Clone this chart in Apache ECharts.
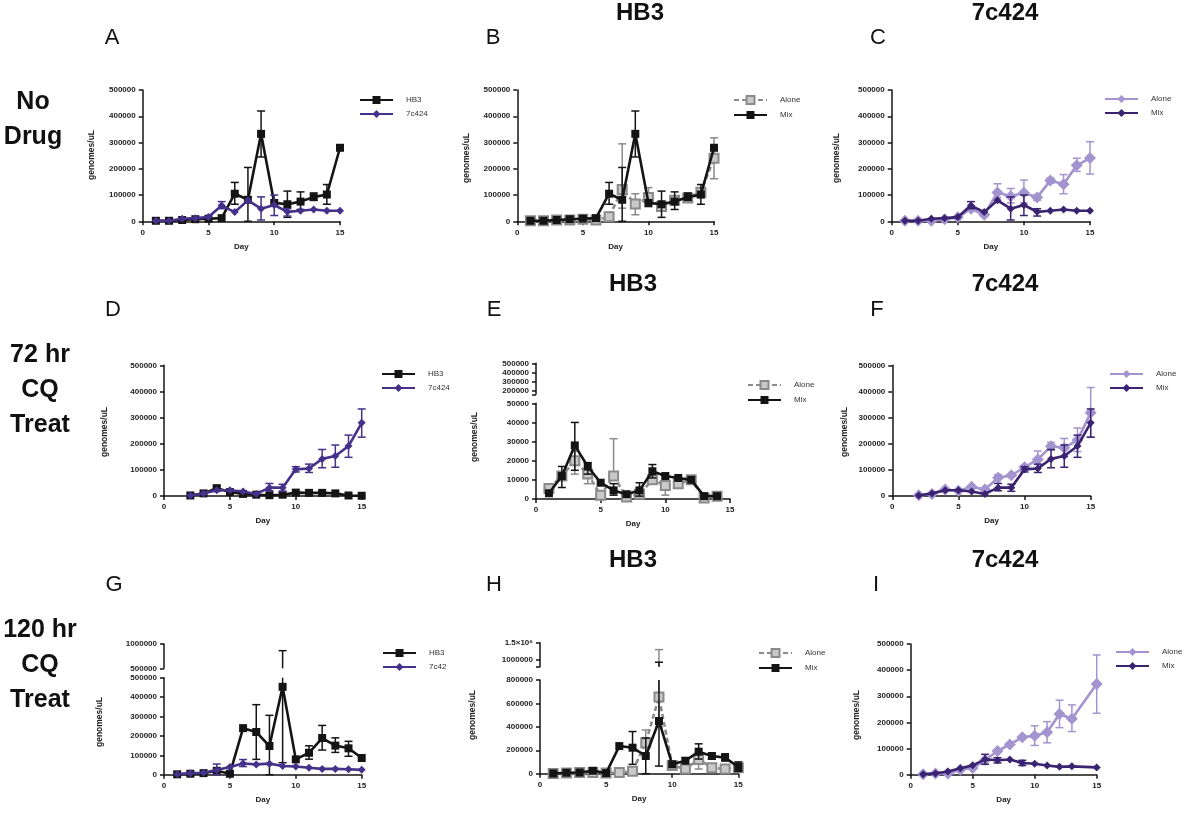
<!DOCTYPE html>
<html><head><meta charset="utf-8">
<script src="https://cdn.jsdelivr.net/npm/echarts@6/dist/echarts.min.js"></script>
<style>html,body{margin:0;padding:0;background:#fff}#c{width:1200px;height:828px}</style>
</head><body><div id="c"></div>
<script>
const _ = null;
const days = [1,2,3,4,5,6,7,8,9,10,11,12,13,14,15];
const xTicks = [0,5,10,15];

// ---- Panel A (No Drug) ----
const A_HB3    = [2000,2000,5000,8000,10000,12000,105000,82000,333000,70000,65000,75000,92000,102000,280000];
const A_HB3_hi = [_,_,_,_,_,_,148000,205000,420000,_,115000,112000,108000,140000,_];
const A_HB3_lo = [_,_,_,_,_,_,65000,0,245000,_,15000,45000,80000,65000,_];
const A_7c     = [2000,2000,10000,12000,16000,60000,35000,80000,48000,62000,36000,40000,45000,40000,40000];
const A_7c_hi  = [_,_,_,_,_,75000,_,_,93000,100000,48000,_,_,_,_];
const A_7c_lo  = [_,_,_,_,_,48000,_,_,5000,22000,20000,_,_,_,_];
// ---- Panel B (HB3, No Drug) ----
const B_Alone    = [2000,2000,5000,5000,8000,5000,17000,121000,66000,91000,56000,80000,89000,111000,240000];
const B_Alone_hi = [_,_,_,_,_,_,_,295000,105000,128000,_,95000,_,125000,318000];
const B_Alone_lo = [_,_,_,_,_,_,_,50000,25000,55000,_,65000,_,90000,162000];
const B_Mix = A_HB3, B_Mix_hi = A_HB3_hi, B_Mix_lo = A_HB3_lo;
// ---- Panel C (7c424, No Drug) ----
const C_Alone    = [2000,2000,2000,8000,15000,48000,25000,110000,95000,109000,91000,155000,141000,213000,241000];
const C_Alone_hi = [_,_,_,_,_,_,_,143000,125000,157000,100000,165000,178000,240000,303000];
const C_Alone_lo = [_,_,_,_,_,_,_,90000,70000,70000,80000,145000,105000,190000,180000];
const C_Mix = A_7c, C_Mix_hi = A_7c_hi, C_Mix_lo = A_7c_lo;
// ---- Panel D (72 hr CQ) ----
const D_HB3    = [_,2000,10000,30000,15000,8000,5000,3000,5000,13000,12000,12000,10000,2000,1000];
const D_HB3_hi = [_,_,_,38000,_,_,_,_,_,_,_,_,_,_,_];
const D_HB3_lo = [_,_,_,_,_,_,_,_,_,_,_,_,_,_,_];
const D_7c     = [_,2000,10000,22000,22000,17000,8000,32000,32000,102000,105000,142000,153000,191000,280000];
const D_7c_hi  = [_,_,_,_,_,_,_,48000,45000,112000,122000,178000,195000,233000,333000];
const D_7c_lo  = [_,_,_,_,_,_,_,20000,18000,92000,90000,108000,110000,148000,225000];
// ---- Panel E (HB3, 72 hr CQ) ----
const E_Alone    = [5500,12000,20000,13000,2000,12000,1000,2500,10000,7000,8000,10000,500,1500,_];
const E_Alone_hi = [_,_,25000,15000,_,31500,_,_,12000,11000,_,12000,_,_,_];
const E_Alone_lo = [_,_,13000,8000,_,_,_,_,_,2000,_,8000,_,_,_];
const E_Mix      = [3000,12000,28000,17000,8500,4500,2500,4500,14500,12000,11000,10000,1500,1500,_];
const E_Mix_hi   = [_,17000,40000,19000,_,8000,_,8500,18000,_,_,_,_,_,_];
const E_Mix_lo   = [_,6000,15000,13000,_,2000,_,1500,11000,_,_,_,_,_,_];
// ---- Panel F (7c424, 72 hr CQ) ----
const F_Alone    = [_,3000,8000,25000,20000,35000,25000,70000,79000,110000,140000,190000,184000,214000,318000];
const F_Alone_hi = [_,_,_,_,_,_,_,82000,_,118000,172000,205000,220000,260000,415000];
const F_Alone_lo = [_,_,_,_,_,_,_,_,_,_,120000,175000,150000,170000,225000];
const F_Mix = D_7c, F_Mix_hi = D_7c_hi, F_Mix_lo = D_7c_lo;
// ---- Panel G (120 hr CQ) ----
const G_HB3    = [2000,5000,8000,20000,5000,240000,220000,148000,453000,79000,113000,189000,150000,136000,86000];
const G_HB3_hi = [_,_,_,_,_,_,361000,306000,863000,_,149000,254000,190000,172000,_];
const G_HB3_lo = [_,_,_,_,_,_,79000,0,62000,_,80000,127000,115000,95000,_];
const G_7c     = [2000,8000,10000,24000,40000,58000,53000,57000,45000,42000,36000,30000,30000,28000,25000];
const G_7c_hi  = [_,_,_,55000,_,78000,_,_,_,_,_,_,_,_,_];
const G_7c_lo  = [_,_,_,0,_,42000,_,_,_,_,_,_,_,_,_];
// ---- Panel H (HB3, 120 hr CQ) ----
const H_Alone    = [2000,5000,10000,10000,5000,10000,20000,265000,655000,71000,40000,122000,51000,40000,50000];
const H_Alone_hi = [_,_,_,_,_,_,_,373000,1300000,_,_,150000,_,_,100000];
const H_Alone_lo = [_,_,_,_,_,_,_,150000,400000,_,_,40000,_,_,20000];
const H_Mix      = [2000,8000,10000,25000,5000,236000,222000,151000,450000,80000,111000,188000,151000,137000,57000];
const H_Mix_hi   = [_,_,_,_,_,_,360000,305000,935000,_,135000,255000,175000,170000,100000];
const H_Mix_lo   = [_,_,_,_,_,_,80000,0,65000,_,_,125000,125000,110000,20000];
// ---- Panel I (7c424, 120 hr CQ) ----
const I_Alone    = [2000,5000,5000,19000,25500,56000,90600,116000,142800,149000,162000,232000,214000,_,347000];
const I_Alone_hi = [_,_,_,_,_,_,_,_,_,187000,203000,285000,267000,_,458000];
const I_Alone_lo = [_,_,_,_,_,_,_,_,_,112000,122000,180000,165000,_,235000];
const I_Mix      = [2000,5000,12000,25000,35700,58700,55000,58000,44600,42000,35000,30000,32000,_,28000];
const I_Mix_hi   = [_,_,_,_,_,78000,65000,_,55000,_,_,_,_,_,_];
const I_Mix_lo   = [_,_,_,_,_,40000,45000,_,35000,_,_,_,_,_,_];

// ---- Text ----
const panelLetters = ['A','B','C','D','E','F','G','H','I'];
const colTitles = ['HB3','7c424'];
const rowLabels = [['No','Drug'],['72 hr','CQ','Treat'],['120 hr','CQ','Treat']];
const yTitle = 'genomes/uL', xTitle = 'Day';

// ---- Styles ----
const STY = {
  black:  {color:'#141414', fill:'#141414', symbol:'rect', size:8, bw:0},
  purple: {color:'#45318a', fill:'#45318a', symbol:'diamond', size:8, bw:0},
  grey:   {color:'#8a8a8a', fill:'#c9c9c9', symbol:'rect', size:9, bw:2, dash:[5,3]},
  light:  {color:'#a394cf', fill:'#a394cf', symbol:'diamond', size:12, bw:0},
  dark:   {color:'#3a2472', fill:'#3a2472', symbol:'diamond', size:8, bw:0}
};
const FONT = "'Liberation Sans', Arial, sans-serif";

const panels = [
  {id:'A', left:142.7, width:197.3, main:{top:90, height:131.3, min:0, max:500000, interval:100000},
   yName:[92,155], legend:[354,91],
   lines:[{n:'HB3', v:A_HB3, hi:A_HB3_hi, lo:A_HB3_lo, s:'black'},{n:'7c424', v:A_7c, hi:A_7c_hi, lo:A_7c_lo, s:'purple'}]},
  {id:'B', left:517.3, width:196.7, main:{top:90, height:131.3, min:0, max:500000, interval:100000},
   yName:[467,158], legend:[728,90],
   lines:[{n:'Alone', v:B_Alone, hi:B_Alone_hi, lo:B_Alone_lo, s:'grey'},{n:'Mix', v:B_Mix, hi:B_Mix_hi, lo:B_Mix_lo, s:'black'}]},
  {id:'C', left:891.7, width:198.3, main:{top:90, height:131.3, min:0, max:500000, interval:100000},
   yName:[837,158], legend:[1099,90],
   lines:[{n:'Alone', v:C_Alone, hi:C_Alone_hi, lo:C_Alone_lo, s:'light'},{n:'Mix', v:C_Mix, hi:C_Mix_hi, lo:C_Mix_lo, s:'dark'}]},
  {id:'D', left:164, width:197.7, main:{top:365.3, height:130.7, min:0, max:500000, interval:100000},
   yName:[105,432], legend:[376,365],
   lines:[{n:'HB3', v:D_HB3, hi:D_HB3_hi, lo:D_HB3_lo, s:'black'},{n:'7c424', v:D_7c, hi:D_7c_hi, lo:D_7c_lo, s:'purple'}]},
  {id:'E', left:536, width:194, main:{top:403.3, height:95.7, min:0, max:50000, interval:10000},
   upper:{top:363.3, height:31, min:160000, max:500000, labels:[200000,300000,400000,500000], ticks:[160000,200000,300000,400000,500000]},
   yName:[475,437], legend:[742,375],
   lines:[{n:'Alone', v:E_Alone, hi:E_Alone_hi, lo:E_Alone_lo, s:'grey'},{n:'Mix', v:E_Mix, hi:E_Mix_hi, lo:E_Mix_lo, s:'black'}]},
  {id:'F', left:892.3, width:198.4, main:{top:365.3, height:130.7, min:0, max:500000, interval:100000},
   yName:[845,432], legend:[1104,365],
   lines:[{n:'Alone', v:F_Alone, hi:F_Alone_hi, lo:F_Alone_lo, s:'light'},{n:'Mix', v:F_Mix, hi:F_Mix_hi, lo:F_Mix_lo, s:'dark'}]},
  {id:'G', left:164, width:197.7, main:{top:677.7, height:97, min:0, max:500000, interval:100000},
   upper:{top:644, height:24.3, min:500000, max:1000000, labels:[500000,1000000], ticks:[500000,1000000]},
   yName:[100,722], legend:[377,644],
   lines:[{n:'HB3', v:G_HB3, hi:G_HB3_hi, lo:G_HB3_lo, s:'black'},{n:'7c42', v:G_7c, hi:G_7c_hi, lo:G_7c_lo, s:'purple'}]},
  {id:'H', left:540, width:198.3, main:{top:680, height:93.7, min:0, max:800000, interval:200000},
   upper:{top:642.7, height:24, min:806000, max:1500000, labels:[1000000,1500000], ticks:[806000,1000000,1500000]},
   yName:[473,715], legend:[753,643],
   lines:[{n:'Alone', v:H_Alone, hi:H_Alone_hi, lo:H_Alone_lo, s:'grey'},{n:'Mix', v:H_Mix, hi:H_Mix_hi, lo:H_Mix_lo, s:'black'}]},
  {id:'I', left:910.7, width:186, main:{top:644, height:130.7, min:0, max:500000, interval:100000},
   yName:[857,715], legend:[1110,643],
   lines:[{n:'Alone', v:I_Alone, hi:I_Alone_hi, lo:I_Alone_lo, s:'light'},{n:'Mix', v:I_Mix, hi:I_Mix_hi, lo:I_Mix_lo, s:'dark'}]}
];

const grids=[], xAxes=[], yAxes=[], series=[], legends=[], graphics=[];
const AXC = '#141414';
const yFmt = v => v === 1500000 ? '1.5×10⁶' : String(v);

function addAxes(p, part, isUpper){
  const g = grids.length;
  grids.push({left:p.left, top:part.top, width:p.width, height:part.height});
  xAxes.push({gridIndex:g, type:'value', min:0, max:15, interval:5, show:!isUpper,
    axisLine:{show:true, onZero:false, lineStyle:{color:AXC, width:1.5}},
    axisTick:{show:true, length:4, lineStyle:{color:AXC, width:1.5}},
    axisLabel:{fontSize:8, fontWeight:'bold', color:'#222', margin:7, fontFamily:FONT},
    splitLine:{show:false},
    name: isUpper ? '' : xTitle, nameLocation:'middle', nameGap:21,
    nameTextStyle:{fontSize:8, fontWeight:'bold', color:'#222', fontFamily:FONT}});
  const y = {gridIndex:g, type:'value', min:part.min, max:part.max,
    axisLine:{show:true, lineStyle:{color:AXC, width:1.5}},
    axisTick:{show:true, length:4, lineStyle:{color:AXC, width:1.5}},
    axisLabel:{fontSize:8, fontWeight:'bold', color:'#222', margin:7, fontFamily:FONT, formatter:yFmt},
    splitLine:{show:false}};
  if (isUpper){
    y.axisLabel.customValues = part.labels;
    y.axisTick.customValues = part.ticks;
  } else {
    y.interval = part.interval;
  }
  yAxes.push(y);
  return g;
}

function errSeries(g, vals, hi, lo, color, ymin, ymax, z){
  const rows = [];
  days.forEach((d,i)=>{
    if (vals[i] == null) return;
    if (hi[i] == null && lo[i] == null) return;
    rows.push([d, vals[i], hi[i]==null ? vals[i] : hi[i], lo[i]==null ? vals[i] : lo[i], hi[i]!=null ? 1 : 0, lo[i]!=null ? 1 : 0]);
  });
  return {type:'custom', xAxisIndex:g, yAxisIndex:g, z:z, silent:true, animation:false,
    data: rows, encode:{x:0, y:1},
    renderItem(params, api){
      const r = rows[params.dataIndex];
      const x = r[0], top = r[2], bot = r[3];
      const t = Math.min(top, ymax), b = Math.max(bot, ymin);
      const ch = [];
      if (t > b){
        const p1 = api.coord([x, t]), p2 = api.coord([x, b]);
        ch.push({type:'line', shape:{x1:p1[0], y1:p1[1], x2:p2[0], y2:p2[1]}, style:{stroke:color, lineWidth:1.5}});
      }
      const cw = 4;
      if (r[4] && top <= ymax && top >= ymin){
        const c = api.coord([x, top]);
        ch.push({type:'line', shape:{x1:c[0]-cw, y1:c[1], x2:c[0]+cw, y2:c[1]}, style:{stroke:color, lineWidth:1.5}});
      }
      if (r[5] && bot <= ymax && bot >= ymin){
        const c = api.coord([x, bot]);
        ch.push({type:'line', shape:{x1:c[0]-cw, y1:c[1], x2:c[0]+cw, y2:c[1]}, style:{stroke:color, lineWidth:1.5}});
      }
      return {type:'group', children:ch};
    }};
}

panels.forEach(p=>{
  const gm = addAxes(p, p.main, false);
  const gu = p.upper ? addAxes(p, p.upper, true) : null;
  const names = [];
  p.lines.forEach((L, k)=>{
    const st = STY[L.s];
    const nm = p.id + '|' + L.n;
    names.push(nm);
    const z = 3 + k * 2;
    const data = [];
    days.forEach((d,i)=>{ if (L.v[i] != null) data.push([d, L.v[i]]); });
    series.push(errSeries(gm, L.v, L.hi, L.lo, st.color, p.main.min, p.main.max, z));
    if (gu != null) series.push(errSeries(gu, L.v, L.hi, L.lo, st.color, p.upper.min, p.upper.max, z));
    series.push({type:'line', name:nm, xAxisIndex:gm, yAxisIndex:gm, data:data, z:z+1,
      symbol:st.symbol, symbolSize:st.size, showSymbol:true, animation:false, silent:true,
      lineStyle:{color:st.color, width:2.6, type: st.dash || 'solid'},
      itemStyle:{color:st.fill, borderColor:st.color, borderWidth:st.bw},
      emphasis:{disabled:true}});
  });
  legends.push({data:names, orient:'vertical', left:p.legend[0], top:p.legend[1],
    itemWidth:33, itemHeight:10, itemGap:6, selectedMode:false,
    formatter: n => n.split('|')[1],
    textStyle:{fontSize:8, color:'#333', fontFamily:FONT, padding:[0,0,0,8]}});
  graphics.push({type:'text', x:p.yName[0], y:p.yName[1], rotation:Math.PI/2,
    style:{text:yTitle, fill:'#222', font:'bold 8.5px ' + FONT, textAlign:'center', textVerticalAlign:'middle'}});
});

// panel letters
const letterPos = [[112,38],[493,38],[878,38],[113,310],[494,310],[877,310],[114,585],[494,585],[876,585]];
panelLetters.forEach((t,i)=> graphics.push({type:'text', x:letterPos[i][0], y:letterPos[i][1],
  style:{text:t, fill:'#111', font:'22px ' + FONT, textAlign:'center', textVerticalAlign:'middle'}}));
// column titles
const titleRowsY = [13, 284, 560];
const titleX = [[640,1005],[633,1005],[633,1005]];
titleRowsY.forEach((yy,r)=> colTitles.forEach((t,c)=> graphics.push({type:'text', x:titleX[r][c], y:yy,
  style:{text:t, fill:'#111', font:'bold 24px ' + FONT, textAlign:'center', textVerticalAlign:'middle'}})));
// row labels
const rowStart = [[33,102],[40,355],[40,630]];
rowLabels.forEach((lines,r)=> lines.forEach((t,k)=> graphics.push({type:'text', x:rowStart[r][0], y:rowStart[r][1] + k*35,
  style:{text:t, fill:'#111', font:'bold 25px ' + FONT, textAlign:'center', textVerticalAlign:'middle'}})));

const chart = echarts.init(document.getElementById('c'), null, {renderer:'canvas'});
chart.setOption({
  animation:false, backgroundColor:'#fff',
  textStyle:{fontFamily:FONT},
  grid:grids, xAxis:xAxes, yAxis:yAxes, series:series, legend:legends, graphic:graphics
});
</script>
</body></html>
